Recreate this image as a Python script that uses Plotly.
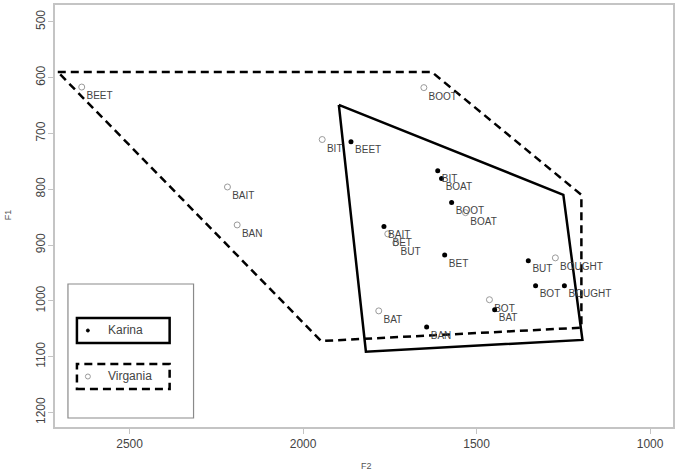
import plotly.graph_objects as go

# Karina: vowel tokens (F2, F1 in Hz)
karina_words = ["BEET", "BIT", "BOAT", "BOOT", "BAIT", "BET", "BAN", "BAT", "BUT", "BOT", "BOUGHT"]
karina_f2 = [1862, 1612, 1601, 1572, 1767, 1592, 1644, 1448, 1351, 1330, 1247]
karina_f1 = [715, 767, 781, 824, 867, 918, 1047, 1016, 928, 973, 973]

# Virgania: vowel tokens (F2, F1 in Hz)
virg_words = ["BEET", "BIT", "BAIT", "BAN", "BOOT", "BOAT", "BET", "BUT", "BAT", "BOT", "BOUGHT"]
virg_f2 = [2638, 1945, 2218, 2190, 1652, 1532, 1756, 1733, 1782, 1463, 1273]
virg_f1 = [617, 711, 796, 864, 618, 842, 880, 896, 1018, 998, 923]

# Vowel-space outlines (closed polygons)
karina_poly_f2 = [1897, 1250, 1195, 1819, 1897]
karina_poly_f1 = [649, 810, 1070, 1091, 649]
virg_poly_f2 = [2707, 1629, 1198, 1198, 1948, 2707]
virg_poly_f1 = [590, 590, 810, 1048, 1072, 590]

x_ticks = [2500, 2000, 1500, 1000]
y_ticks = [500, 600, 700, 800, 900, 1000, 1100, 1200]

W, H = 677, 475
ML, MR, MT, MB = 55, 2, 5, 48
PW, PH = W - ML - MR, H - MT - MB

def px(x):
    return (x - ML) / PW

def py(y):
    return 1 - (y - MT) / PH

FONT = "Liberation Sans, Arial"
label_font = dict(family=FONT, size=10, color="#444")

fig = go.Figure()

fig.add_trace(go.Scatter(
    x=virg_poly_f2, y=virg_poly_f1, mode="lines",
    line=dict(color="black", width=2.5, dash="8px,5px"),
    hoverinfo="skip", showlegend=False))
fig.add_trace(go.Scatter(
    x=karina_poly_f2, y=karina_poly_f1, mode="lines",
    line=dict(color="black", width=2.5),
    hoverinfo="skip", showlegend=False))

fig.add_trace(go.Scatter(
    x=virg_f2, y=virg_f1, mode="markers+text", text=virg_words,
    textposition="bottom right", textfont=label_font,
    marker=dict(symbol="circle-open", size=6, color="#9a9a9a", line=dict(width=1)),
    name="Virgania", showlegend=False))
fig.add_trace(go.Scatter(
    x=karina_f2, y=karina_f1, mode="markers+text", text=karina_words,
    textposition="bottom right", textfont=label_font,
    marker=dict(symbol="circle", size=5, color="black"),
    name="Karina", showlegend=False))

shapes = []
annotations = []

# Legend panel drawn in paper coordinates
shapes.append(dict(type="rect", xref="paper", yref="paper",
                   x0=px(68), x1=px(194), y0=py(418), y1=py(284),
                   line=dict(color="#8a8a8a", width=1.2)))
shapes.append(dict(type="rect", xref="paper", yref="paper",
                   x0=px(77), x1=px(170), y0=py(343), y1=py(318),
                   line=dict(color="black", width=2.5)))
shapes.append(dict(type="rect", xref="paper", yref="paper",
                   x0=px(77), x1=px(170), y0=py(389), y1=py(364),
                   line=dict(color="black", width=2.5, dash="8px,5px")))
shapes.append(dict(type="circle", xref="paper", yref="paper",
                   x0=px(86.5), x1=px(89.5), y0=py(332), y1=py(329),
                   fillcolor="black", line=dict(color="black", width=1)))
shapes.append(dict(type="circle", xref="paper", yref="paper",
                   x0=px(85.5), x1=px(90.5), y0=py(379), y1=py(374),
                   line=dict(color="#9a9a9a", width=1)))
annotations.append(dict(xref="paper", yref="paper", x=px(106), y=py(330),
                        text="Karina", showarrow=False, xanchor="left", yanchor="middle",
                        font=dict(family=FONT, size=12, color="#444")))
annotations.append(dict(xref="paper", yref="paper", x=px(106), y=py(376),
                        text="Virgania", showarrow=False, xanchor="left", yanchor="middle",
                        font=dict(family=FONT, size=12, color="#444")))

# Axis titles
annotations.append(dict(xref="paper", yref="paper", x=px(368), y=py(466),
                        text="F2", showarrow=False, xanchor="center", yanchor="middle",
                        font=dict(family=FONT, size=9, color="#555")))
annotations.append(dict(xref="paper", yref="paper", x=px(8), y=py(215),
                        text="F1", showarrow=False, xanchor="center", yanchor="middle",
                        textangle=-90, font=dict(family=FONT, size=9, color="#555")))

fig.update_layout(
    width=W, height=H,
    margin=dict(l=ML, r=MR, t=MT, b=MB),
    paper_bgcolor="white", plot_bgcolor="white",
    shapes=shapes, annotations=annotations,
    font=dict(family=FONT, color="#444"),
)
fig.update_xaxes(
    range=[2715, 934], tickvals=x_ticks, ticktext=[str(v) for v in x_ticks],
    showgrid=False, zeroline=False, showline=True, mirror=True,
    linecolor="#c4c4c4", linewidth=2, ticks="outside", ticklen=5,
    tickcolor="#c4c4c4", tickfont=dict(size=12, color="#444"),
)
fig.update_yaxes(
    range=[1226, 470], tickvals=y_ticks, ticktext=[str(v) for v in y_ticks],
    showgrid=False, zeroline=False, showline=True, mirror=True,
    linecolor="#c4c4c4", linewidth=2, ticks="outside", ticklen=5,
    tickcolor="#c4c4c4", tickangle=-90, tickfont=dict(size=12, color="#444"),
    ticklabelstandoff=-2,
)

fig.write_html("out.html")
